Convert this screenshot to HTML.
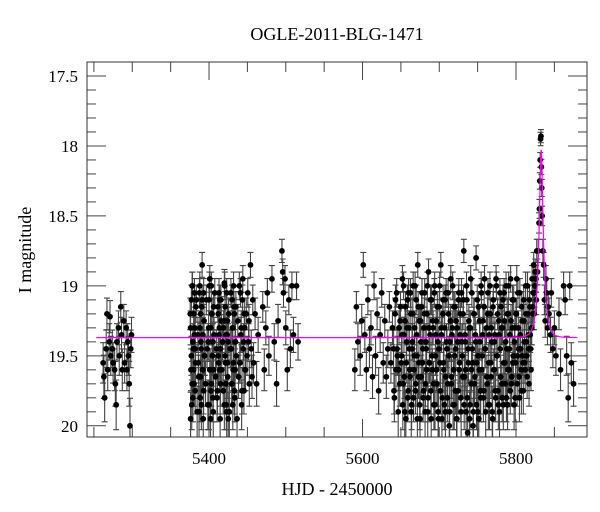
<!DOCTYPE html>
<html><head><meta charset="utf-8"><style>
html,body{margin:0;padding:0;background:#fff;}
svg{display:block;font-family:"Liberation Serif",serif;}
</style></head><body>
<svg id="chart" width="600" height="512" viewBox="0 0 600 512" xmlns="http://www.w3.org/2000/svg">
<rect width="600" height="512" fill="#fff"/>
<text x="337" y="40" font-size="18" text-anchor="middle">OGLE-2011-BLG-1471</text>
<text x="337" y="495" font-size="18" text-anchor="middle">HJD - 2450000</text>
<text x="0" y="0" font-size="18" text-anchor="middle" transform="translate(31,250) rotate(-90)">I magnitude</text>
<g id="ticks"></g><g id="marks"></g><g id="model"></g>
<rect x="87" y="62" width="500" height="375" fill="none" stroke="#333" stroke-width="1"/>
</svg>
<script>
const xTicks=[5400,5600,5800];
const yTicks=[17.5,18,18.5,19,19.5,20];
const times=[5262,5263,5264,5266,5267,5268,5270,5271,5272,5274,5275,5277,5278,5279,5280,5282,5283,5285,5286,5287,5289,5290,5292,5293,5294,5295,5296,5297,5298,5299,
5376,5376,5377,5377,5378,5378,5379,5379,5380,5380,5381,5381,5382,5382,5383,
5386,5387,5388,5388,5389,5389,5390,5390,5391,5391,5392,5392,5393,5393,5394,
5399,5400,5400,5401,5401,5402,5402,5403,5403,5404,5404,5405,5405,5406,5406,
5411,5412,5412,5413,5413,5414,5414,5415,5415,5416,
5419,5420,5420,5421,5421,5422,5422,5423,5423,5424,5424,5425,5425,
5429,5430,5430,5431,5431,5432,5432,5433,5433,5434,5434,5435,
5440,5441,5442,5443,5444,5445,5446,5447,
5452,5454,5455,5456,5457,5458,5460,5462,5464,
5470,5472,5474,5476,5478,5482,5485,5488,5490,
5495,5496,5497,5499,5500,5502,5504,5506,5508,5510,5514,5516,
5590,5592,5594,5597,5599,5601,5603,5605,5607,5609,5611,5613,5615,5617,5619,5621,5623,5625,5627,5629,5631,5633,5635,5637,5639,5641,5643,5645,5647,5649,
5651,5652,5653,5654,5655,5656,5657,5658,5659,5660,5661,5662,5663,5664,5665,5666,5667,5668,5669,5670,5671,5672,5673,5674,5675,5676,5677,5678,5679,5680,5681,5682,5683,5684,5685,5686,5687,5688,5689,5690,5691,5692,5693,5694,5695,5696,5697,5698,5699,5700,
5701,5702,5703,5704,5705,5706,5707,5708,5709,5710,5711,5712,5713,5714,5715,5716,5717,5718,5719,5720,5721,5722,5723,5724,5725,5726,5727,5728,5729,5730,
5731,5732,5733,5734,5735,5736,5737,5738,5739,5740,5741,5742,5743,5744,5745,5746,5747,5748,5749,5750,5751,5752,5753,5754,5755,5756,5757,5758,5759,5760,5762,5763,5764,5765,5766,5767,5768,5769,5770,5771,5772,5773,5774,5775,5776,5777,5778,5779,5780,5781,5782,5783,5784,5785,5786,5787,5788,5789,5790,5791,5792,5793,5794,5795,5796,5797,5798,5799,5800,5801,5802,5803,5804,5805,5806,5807,5808,5809,5810,5811,5812,5813,5814,5815,5816,5817,5818,5819,5820,5821,5822,5823,5824,5825,5826,5827,5828,
5829,5830,5830.5,5831,5831.5,5832,5832.5,5833,5833.5,5834,5835,5836,5837,5838,5839,5840,5841,5842,5843,5845,5846,5848,5850,5852,5856,5858,5862,5864,5866,5868,5870,5872,5875];
const mags=[19.55,19.65,19.8,19.45,19.2,19.6,19.4,19.22,19.5,19.45,19.55,19.6,19.7,19.85,19.4,19.3,19.5,19.15,19.35,19.6,19.25,19.55,19.3,19.6,19.4,19.5,19.7,20.0,19.45,19.35,
19.95,19.3,19.1,19.5,19.7,19.0,19.4,19.8,19.2,19.6,19.35,19.05,19.75,19.45,19.15,
19.55,19.9,19.3,19.0,19.65,19.2,19.85,19.45,18.85,19.1,19.6,19.35,19.75,19.05,19.5,
19.4,19.85,19.1,19.6,18.95,19.95,19.3,19.7,19.0,19.5,19.2,19.8,19.4,19.15,19.6,
19.75,19.2,19.5,19.05,19.35,19.6,19.1,19.45,19.7,19.25,
19.3,19.85,18.98,19.5,19.15,19.7,19.35,19.9,19.05,19.55,19.25,19.95,19.4,
19.45,19.1,19.7,19.3,19.85,19.0,19.55,19.2,19.75,19.4,19.6,19.15,
19.55,19.05,19.3,19.75,18.95,19.4,19.2,19.6,
19.25,18.85,19.45,19.65,19.1,19.55,19.2,19.7,19.35,
19.15,19.6,19.3,19.05,19.5,18.95,19.4,19.7,19.25,
18.75,18.9,19.05,18.95,19.3,19.6,19.1,19.45,19.0,19.35,19.0,19.4,
19.6,19.15,19.4,19.5,19.25,18.85,19.35,19.6,19.1,19.45,19.3,19.65,19.0,19.5,19.2,19.75,19.35,19.05,19.55,19.25,19.65,19.45,19.15,19.55,19.3,19.75,19.1,19.45,19.6,19.25,
19.5,18.95,19.7,19.35,19.9,19.15,19.55,19.3,19.8,19.05,19.45,19.65,19.2,19.85,19.4,19.0,19.6,19.3,19.75,19.1,19.5,18.85,19.65,19.25,19.95,19.4,19.15,19.55,19.8,19.3,19.05,19.7,19.45,19.2,19.9,18.9,19.55,19.35,19.75,19.1,19.6,19.3,19.85,19.0,19.5,19.25,19.7,19.4,19.95,19.15,
19.55,18.85,19.35,19.8,19.1,19.6,19.3,19.9,19.05,19.45,19.7,19.2,20.0,19.4,18.95,19.65,19.3,19.85,19.15,19.5,19.75,19.25,19.95,19.4,19.1,19.6,19.35,19.8,19.05,19.5,
19.2,18.75,19.65,19.4,19.9,19.1,20.05,19.55,19.3,19.85,18.95,19.6,19.45,20.0,19.2,19.7,19.35,18.8,19.55,19.9,19.15,19.6,19.4,19.8,19.05,19.5,19.25,19.75,18.95,19.45,19.65,19.2,19.85,19.35,19.0,19.55,19.3,19.9,19.15,19.6,19.4,19.75,18.95,19.5,19.2,19.85,19.35,19.05,19.65,19.3,19.8,19.1,19.55,19.25,19.7,19.0,19.45,19.85,19.2,19.6,19.35,18.95,19.7,19.3,19.55,19.1,19.4,19.8,19.2,18.95,19.5,19.3,19.65,19.05,19.45,19.75,19.25,19.55,19.1,19.4,19.6,19.2,19.5,19.0,19.35,19.7,19.15,19.45,19.3,18.95,19.2,18.85,19.05,18.9,18.95,18.75,18.9,
18.75,18.55,18.45,18.25,18.1,17.95,17.93,18.15,18.3,18.5,18.75,18.85,19.1,19.25,18.95,19.05,19.3,19.15,19.2,19.35,19.05,19.45,19.3,19.5,19.2,19.6,19.0,19.1,19.5,19.8,19.0,19.55,19.7];
const nightlyRanges=[[5375,5452],[5640,5826]];
const mags2=[19.2,19.6,19.85,19.0,19.45,19.7,19.3,19.55,19.1,19.9,
19.35,19.65,19.05,19.8,19.4,19.15,19.6,19.95,19.25,19.5,
19.7,19.1,19.45,19.85,19.3,19.0,19.6,19.75,19.2,19.5,
19.9,19.35,19.05,19.65,19.45,19.8,19.15,19.55,19.3,19.95,
19.1,19.6,19.4,19.75,19.25,19.0,19.55,19.85,19.35,19.65,
19.2,19.9,19.45,19.05,19.7,19.3,19.6,19.15,19.8,19.4,
19.5,19.95,19.25,19.65,19.0,19.55,19.35,19.85,19.1,19.45,
19.75,19.3,19.6,19.2,19.5,19.05,19.4,19.7,
19.45,19.8,19.2,19.6,19.05,19.5,19.9,19.3,19.7,19.15,
19.55,19.35,19.85,19.0,19.65,19.25,19.95,19.4,19.1,19.75,
19.3,19.6,19.05,19.9,19.45,19.2,19.8,19.5,19.0,19.7,
19.35,19.95,19.15,19.55,19.85,19.25,19.65,19.05,19.45,19.75,
19.2,19.9,19.4,19.6,19.0,19.8,19.3,19.55,19.1,19.95,
19.5,19.25,19.7,19.05,19.85,19.35,19.6,19.15,19.9,19.45,
19.0,19.75,19.3,19.95,19.2,19.55,19.85,19.1,19.65,19.4,
19.8,19.05,19.5,19.9,19.25,19.7,19.35,19.0,19.6,19.85,
19.15,19.45,19.95,19.3,19.75,19.05,19.55,19.2,19.9,19.4,
19.65,19.1,19.85,19.35,19.6,19.0,19.8,19.45,19.25,19.95,
19.3,19.7,19.05,19.55,19.9,19.2,19.65,19.4,19.85,19.1,
19.5,19.95,19.25,19.75,19.0,19.6,19.35,19.8,19.15,19.45,
19.9,19.3,19.7,19.05,19.55,19.85,19.2,19.65,19.4,19.95,
19.1,19.6,19.35,19.8,19.0,19.5,19.75,19.25,19.9,19.45,
19.15,19.7,19.3,19.85,19.05,19.55,19.4,19.8,19.2,19.6,
19.0,19.45,19.75,19.25,19.65,19.1,19.5,19.85,19.3,19.55,
19.2,19.7,19.05,19.45,19.8,19.35,19.6,19.15,19.5,19.75,
19.25,19.55,19.0,19.4,19.65,19.2,19.45,19.1,19.35,19.6,
19.3,19.15,19.05,19.2,19.0,18.95,19.1];
const baseline=19.37, t0=5832.8, tE=6, u0=0.3;

const times2=[];
nightlyRanges.forEach(r=>{for(let t=r[0];t<=r[1];t++)times2.push(t+0.5);});
const allT=times.concat(times2), allM=mags.concat(mags2);

const ns="http://www.w3.org/2000/svg";
const X0=87,X1=587,Y0=62,Y1=437, tMin=5241, tMax=5892.5, mTop=17.4, mBot=20.08;
function xs(t){return X0+(t-tMin)/(tMax-tMin)*(X1-X0);}
function ys(m){return Y0+(m-mTop)/(mBot-mTop)*(Y1-Y0);}
function mk(tag,a){const e=document.createElementNS(ns,tag);for(const k in a)e.setAttribute(k,a[k]);return e;}
const tg=document.getElementById('ticks');
for(let t=5250;t<=5890;t+=50){
  const x=xs(t), major=xTicks.includes(t), L=major?18:10;
  const b=mk('line',{x1:x,x2:x,y1:Y1,y2:Y1-L,stroke:'#444'});
  
  
  tg.appendChild(b);
  const tp=mk('line',{x1:x,x2:x,y1:Y0,y2:Y0+L,stroke:'#444'});
  
  
  tg.appendChild(tp);
}
xTicks.forEach(t=>{
  const l=mk('text',{x:xs(t),y:464,'font-size':17,'text-anchor':'middle'});
  
  
  l.textContent=t;tg.appendChild(l);
});
for(let i=175;i<=200;i++){
  const m=i/10, major=(i%5===0), L=major?19:9, y=ys(m);
  const a=mk('line',{x1:X0,x2:X0+L,y1:y,y2:y,stroke:'#444'});
  
  
  tg.appendChild(a);
  const b=mk('line',{x1:X1,x2:X1-L,y1:y,y2:y,stroke:'#444'});
  
  
  tg.appendChild(b);
}
yTicks.forEach(m=>{
  const l=mk('text',{x:78,y:ys(m)+6,'font-size':17,'text-anchor':'end'});
  
  
  l.textContent=m;tg.appendChild(l);
});
const mg=document.getElementById('marks');
mg.setAttribute('clip-path','url(#clip)');
const defs=mk('defs',{});const cp=mk('clipPath',{id:'clip'});cp.appendChild(mk('rect',{x:X0,y:Y0,width:X1-X0,height:Y1-Y0}));defs.appendChild(cp);document.getElementById('chart').appendChild(defs);
for(let i=0;i<allT.length;i++){
  const x=xs(allT[i]), m=allM[i], err=0.13*Math.pow(10,0.3*(m-19.4));
  const ya=ys(m-err), yb=ys(m+err);
  const eb=mk('path',{d:`M${x},${ya}V${yb}M${x-3},${ya}h6M${x-3},${yb}h6`,stroke:'#444','stroke-width':1.1,fill:'none'});
  
  
  mg.appendChild(eb);
}
for(let i=0;i<allT.length;i++){
  const c=mk('circle',{cx:xs(allT[i]),cy:ys(allM[i]),r:2.9,fill:'#000'});
  
  
  mg.appendChild(c);
}
let d='';
for(let t=5253;t<=5880;t+=0.25){
  const u=Math.sqrt(u0*u0+((t-t0)/tE)**2), A=(u*u+2)/(u*Math.sqrt(u*u+4));
  const m=baseline-2.5*Math.log10(A);
  d+=(d?'L':'M')+xs(t).toFixed(2)+','+ys(m).toFixed(2);
}
const pl=mk('path',{d:d,stroke:'#f0f',fill:'none','stroke-width':1.2});


document.getElementById('model').appendChild(pl);
</script>
</body></html>
